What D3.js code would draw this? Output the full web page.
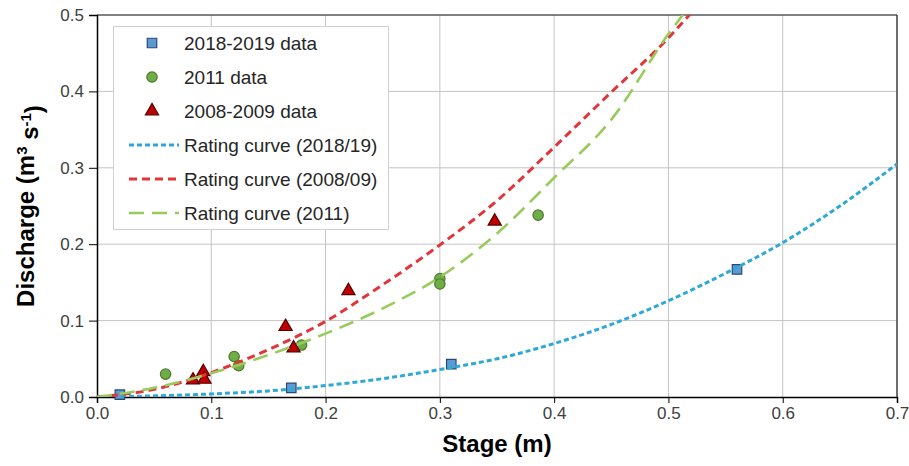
<!DOCTYPE html>
<html><head><meta charset="utf-8">
<script src="https://cdn.jsdelivr.net/npm/d3@7/dist/d3.min.js"></script>
<style>body{margin:0;background:#fff;} svg{display:block;font-family:"Liberation Sans",Arial,sans-serif;}</style>
</head><body><svg id="c" width="909" height="466"></svg>
<script>
// ---- data ----
const xTicks = [0, 0.1, 0.2, 0.3, 0.4, 0.5, 0.6, 0.7];
const yTicks = [0, 0.1, 0.2, 0.3, 0.4, 0.5];

const data2018Stage = [0.02, 0.17, 0.31, 0.56];
const data2018Q     = [0.003, 0.012, 0.043, 0.167];

const data2011Stage = [0.06, 0.12, 0.124, 0.179, 0.30, 0.30, 0.386];
const data2011Q     = [0.030, 0.053, 0.041, 0.068, 0.155, 0.148, 0.238];

const data2008Stage = [0.084, 0.093, 0.094, 0.165, 0.172, 0.22, 0.348];
const data2008Q     = [0.022, 0.033, 0.023, 0.092, 0.064, 0.139, 0.230];

const curve2018Stage = [0, 0.05, 0.1, 0.15, 0.2, 0.25, 0.3, 0.35, 0.4, 0.45, 0.5, 0.55, 0.6, 0.65, 0.7];
const curve2018Q     = [0, 0.0015, 0.004, 0.008, 0.015, 0.024, 0.036, 0.050, 0.070, 0.095, 0.126, 0.162, 0.202, 0.250, 0.305];

const curve2008Stage = [0, 0.05, 0.1, 0.15, 0.2, 0.25, 0.3, 0.35, 0.4, 0.45, 0.5, 0.52];
const curve2008Q     = [0, 0.010, 0.032, 0.062, 0.099, 0.147, 0.199, 0.257, 0.327, 0.399, 0.470, 0.503];

const curve2011Stage = [0, 0.05, 0.1, 0.15, 0.2, 0.25, 0.3, 0.35, 0.4, 0.45, 0.5, 0.515];
const curve2011Q     = [0, 0.012, 0.031, 0.055, 0.083, 0.116, 0.157, 0.214, 0.287, 0.363, 0.475, 0.505];

const legendLabels = ["2018-2019 data", "2011 data", "2008-2009 data",
  "Rating curve (2018/19)", "Rating curve (2008/09)", "Rating curve (2011)"];

// ---- chart ----
const svg = d3.select("#c");
const L = 97, R = 897, T = 15, B = 397;
const x = d3.scaleLinear().domain([0, 0.7]).range([L, R]);
const y = d3.scaleLinear().domain([0, 0.5]).range([B, T]);

// gridlines
svg.append("g").selectAll("line").data(xTicks.slice(1)).join("line")
  .attr("x1", d => x(d)).attr("x2", d => x(d)).attr("y1", T).attr("y2", B)
  .attr("stroke", "#c4c4c4").attr("stroke-width", 1);
svg.append("g").selectAll("line").data(yTicks.slice(1)).join("line")
  .attr("x1", L).attr("x2", R).attr("y1", d => y(d)).attr("y2", d => y(d))
  .attr("stroke", "#c4c4c4").attr("stroke-width", 1);

// axes
const xAxis = svg.append("g").attr("transform", `translate(0,${B})`)
  .call(d3.axisBottom(x).tickValues(xTicks).tickFormat(d3.format(".1f")).tickSize(6).tickPadding(4));
const yAxis = svg.append("g").attr("transform", `translate(${L},0)`)
  .call(d3.axisLeft(y).tickValues(yTicks).tickFormat(d3.format(".1f")).tickSize(8).tickPadding(5));
[xAxis, yAxis].forEach(a => {
  a.select(".domain").attr("stroke", "#000").attr("stroke-width", 1.5);
  a.selectAll(".tick line").attr("stroke", "#000");
  a.selectAll(".tick text").attr("fill", "#404040").style("font-size", "17px")
    .style("font-family", "'Liberation Sans',Arial,sans-serif");
});
// frame top/right
svg.append("line").attr("x1", L).attr("x2", R).attr("y1", T).attr("y2", T).attr("stroke", "#222").attr("stroke-width", 1.2);
svg.append("line").attr("x1", R).attr("x2", R).attr("y1", T).attr("y2", B).attr("stroke", "#222").attr("stroke-width", 1.2);

// clip
svg.append("clipPath").attr("id", "clip").append("rect")
  .attr("x", L).attr("y", T).attr("width", R - L).attr("height", B - T);

// series styles
const styles = {
  sq: {fill: "#5b9bd5", stroke: "#2b4a72"},
  ci: {fill: "#70ad47", stroke: "#4a7a2c"},
  tr: {fill: "#c00000", stroke: "#500000"},
  c18: {stroke: "#2ea9d6", dash: "5,3", w: 3},
  c08: {stroke: "#e2353a", dash: "8,5", w: 3},
  c11: {stroke: "#98cb5c", dash: "15,8", w: 2.6}
};

const symSq = d3.symbol().type(d3.symbolSquare).size(90);
const symCi = d3.symbol().type(d3.symbolCircle).size(85);
const symTr = d3.symbol().type(d3.symbolTriangle).size(75);

function markers(xs, ys, sym, st) {
  svg.append("g").selectAll("path").data(xs.map((v, i) => [v, ys[i]])).join("path")
    .attr("d", sym).attr("transform", d => `translate(${x(d[0])},${y(d[1])})`)
    .attr("fill", st.fill).attr("stroke", st.stroke).attr("stroke-width", 1.2);
}
markers(data2018Stage, data2018Q, symSq, styles.sq);
markers(data2011Stage, data2011Q, symCi, styles.ci);
markers(data2008Stage, data2008Q, symTr, styles.tr);

const line = d3.line().x(d => x(d[0])).y(d => y(d[1])).curve(d3.curveMonotoneX);
function curve(xs, ys, st) {
  svg.append("path").datum(xs.map((v, i) => [v, ys[i]]))
    .attr("clip-path", "url(#clip)")
    .attr("d", line).attr("fill", "none").attr("stroke", st.stroke)
    .attr("stroke-width", st.w).attr("stroke-dasharray", st.dash);
}
curve(curve2018Stage, curve2018Q, styles.c18);
curve(curve2008Stage, curve2008Q, styles.c08);
curve(curve2011Stage, curve2011Q, styles.c11);

// legend
const lg = svg.append("g");
lg.append("rect").attr("x", 113.5).attr("y", 26.5).attr("width", 275).attr("height", 203)
  .attr("fill", "#fff").attr("stroke", "#d0d0d0");
const rowY = i => 43 + i * 34;
const legendSyms = [[symSq, styles.sq], [symCi, styles.ci], [symTr, styles.tr]];
legendSyms.forEach((s, i) => {
  lg.append("path").attr("d", s[0]).attr("transform", `translate(152,${rowY(i)})`)
    .attr("fill", s[1].fill).attr("stroke", s[1].stroke).attr("stroke-width", 1.2);
});
[styles.c18, styles.c08, styles.c11].forEach((st, i) => {
  lg.append("line").attr("x1", 129).attr("x2", 179).attr("y1", rowY(i + 3)).attr("y2", rowY(i + 3))
    .attr("stroke", st.stroke).attr("stroke-width", st.w).attr("stroke-dasharray", st.dash);
});
lg.selectAll("text").data(legendLabels).join("text")
  .attr("x", 184).attr("y", (d, i) => rowY(i)).attr("dy", "0.35em")
  .attr("fill", "#262626").style("font-size", "19px").text(d => d);

// axis titles
svg.append("text").attr("x", (L + R) / 2).attr("y", 452).attr("text-anchor", "middle")
  .style("font-size", "24px").style("font-weight", "bold").attr("fill", "#000").text("Stage (m)");
const yt = svg.append("text").attr("transform", `translate(34,${(T + B) / 2}) rotate(-90)`)
  .attr("text-anchor", "middle").style("font-size", "24px").style("font-weight", "bold").attr("fill", "#000");
yt.append("tspan").text("Discharge (m");
yt.append("tspan").attr("dy", "-0.45em").style("font-size", "15px").text("3");
yt.append("tspan").attr("dy", "0.45em").text(" s");
yt.append("tspan").attr("dy", "-0.45em").style("font-size", "15px").text("-1");
yt.append("tspan").attr("dy", "0.45em").text(")");
</script></body></html>
